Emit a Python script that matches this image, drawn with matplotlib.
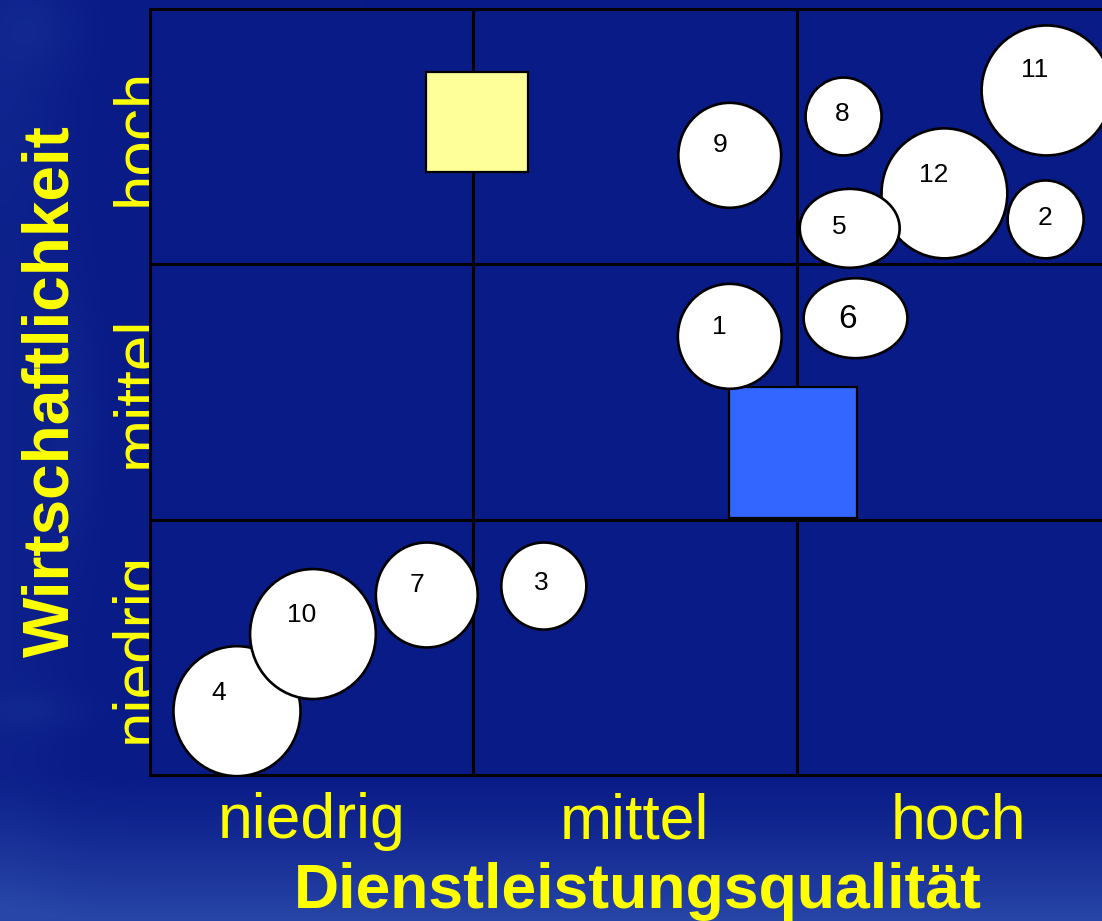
#!/usr/bin/env python3
# -*- coding: utf-8 -*-
# Portfolio: Dienstleistungsqualitaet vs. Wirtschaftlichkeit (3x3 Matrix)

import numpy as np
import matplotlib
matplotlib.use("Agg")
import matplotlib.pyplot as plt
from matplotlib.patches import Ellipse, Rectangle
from matplotlib.transforms import blended_transform_factory

plt.rcParams['font.family'] = ['Liberation Sans', 'DejaVu Sans']

# --- data (matrix units, 0..3 on both axes) ---
levels = ['niedrig', 'mittel', 'hoch']
bubble_ids = ['1', '2', '3', '4', '5', '6', '7', '8', '9', '10', '11', '12']
bubble_x = [1.793, 2.770, 1.218, 0.269, 2.164, 2.182, 0.856, 2.145, 1.793, 0.504, 2.773, 2.457]
bubble_y = [1.718, 2.176, 0.740, 0.250, 2.141, 1.789, 0.705, 2.579, 2.427, 0.552, 2.681, 2.278]
bubble_w = [0.321, 0.235, 0.263, 0.393, 0.309, 0.321, 0.315, 0.235, 0.318, 0.389, 0.402, 0.389]
bubble_h = [0.411, 0.305, 0.341, 0.509, 0.309, 0.313, 0.411, 0.305, 0.411, 0.509, 0.509, 0.509]

# the two reference squares
square_x = [1.011, 1.988]
square_y = [2.556, 1.262]
square_w = [0.315, 0.396]
square_h = [0.391, 0.513]

# label shifts inside the bubbles (pixels, right / down)
label_shift = [(-10, -9), (-1, -1), (-3, -3), (-18, -18), (-10, -1), (-8, 1),
               (-10, -10), (-1, -2), (-10, -10), (-11, -19), (-12, -20), (-11, -18)]

W, H = 1102, 921
fig = plt.figure(figsize=(W / 100, H / 100), dpi=100)

# background: dark navy with lighter bottom and a faint swirl on the left
yy, xx = np.mgrid[0:H, 0:W]
base = np.array([9, 27, 135]) / 255.
light = np.array([40, 70, 168]) / 255.
t = np.clip((yy - 770) / 151., 0, 1) ** 1.3
t = t + 0.22 * np.exp(-(xx / 60.) ** 2) * (0.6 + 0.4 * np.exp(-((yy - 80) / 120.) ** 2))
t = t + 0.18 * np.exp(-((xx - 70) / 25.) ** 2 - ((yy - 420) / 120.) ** 2)
t = t + 0.18 * np.exp(-((xx - 30) / 50.) ** 2 - ((yy - 710) / 20.) ** 2)
t = t + 0.15 * np.exp(-((xx - 40) / 40.) ** 2 - ((yy - 30) / 40.) ** 2)
t = np.clip(t, 0, 1)[..., None]
bg = base * (1 - t) + light * t
ax_bg = fig.add_axes([0, 0, 1, 1], zorder=-5)
ax_bg.imshow(bg, aspect='auto', extent=[0, 1, 0, 1], origin='upper')
ax_bg.set_xlim(0, 1)
ax_bg.set_ylim(0, 1)
ax_bg.axis('off')

# main matrix, runs off the right edge like the original slide
ax = fig.add_axes([150 / W, 146 / H, 970 / W, 766 / H], zorder=1)
ax.set_facecolor('#081b86')
ax.set_xlim(0, 3)
ax.set_ylim(0, 3)
ax.set_xticks([])
ax.set_yticks([])
for sp in ax.spines.values():
    sp.set_linewidth(2.2)
    sp.set_color('black')
for v in [1, 2]:
    ax.axvline(v, color='black', lw=2.2, zorder=1)
    ax.axhline(v, color='black', lw=2.2, zorder=1)

# squares
ax.add_patch(Rectangle((square_x[0] - square_w[0] / 2, square_y[0] - square_h[0] / 2),
                       square_w[0], square_h[0], fc='#ffff99', ec='black', lw=1.6, zorder=3))
ax.add_patch(Rectangle((square_x[1] - square_w[1] / 2, square_y[1] - square_h[1] / 2),
                       square_w[1], square_h[1], fc='#3366ff', ec='black', lw=1.6, zorder=3))

# bubbles, bigger ones first so small ones sit on top
order = sorted(range(len(bubble_ids)), key=lambda i: -bubble_w[i] * bubble_h[i])
for k, i in enumerate(order):
    ax.add_patch(Ellipse((bubble_x[i], bubble_y[i]), bubble_w[i], bubble_h[i],
                         fc='white', ec='black', lw=1.9, zorder=4 + k * 0.01))
    dx, dy = label_shift[i]
    fs = 24 if bubble_ids[i] == '6' else 19
    ax.annotate(bubble_ids[i], (bubble_x[i], bubble_y[i]),
                xytext=(dx * 0.72, -dy * 0.72), textcoords='offset points',
                ha='center', va='center', fontsize=fs, color='black',
                zorder=5 + k * 0.01)

# category labels
yel = '#ffff00'
ty = blended_transform_factory(fig.transFigure, ax.transData)
for j, lab in enumerate(levels):
    ax_bg.text(156 / W, j + 0.5, lab, transform=ty, rotation=90, rotation_mode='anchor',
               ha='center', va='baseline', fontsize=46, color=yel, clip_on=False)
tx = blended_transform_factory(ax.transData, fig.transFigure)
for j, lab in enumerate(levels):
    ax.text(j + 0.5, (H - 838) / H, lab, transform=tx, ha='center', va='baseline',
            fontsize=45, color=yel, clip_on=False)

# axis titles
fig.text(638 / W, (H - 908) / H, 'Dienstleistungsqualität', ha='center', va='baseline',
         fontsize=45, fontweight='bold', color=yel)
fig.text(68 / W, (H - 391) / H, 'Wirtschaftlichkeit', rotation=90, rotation_mode='anchor',
         ha='center', va='baseline', fontsize=46, fontweight='bold', color=yel)

fig.savefig('out.png', dpi=100)
